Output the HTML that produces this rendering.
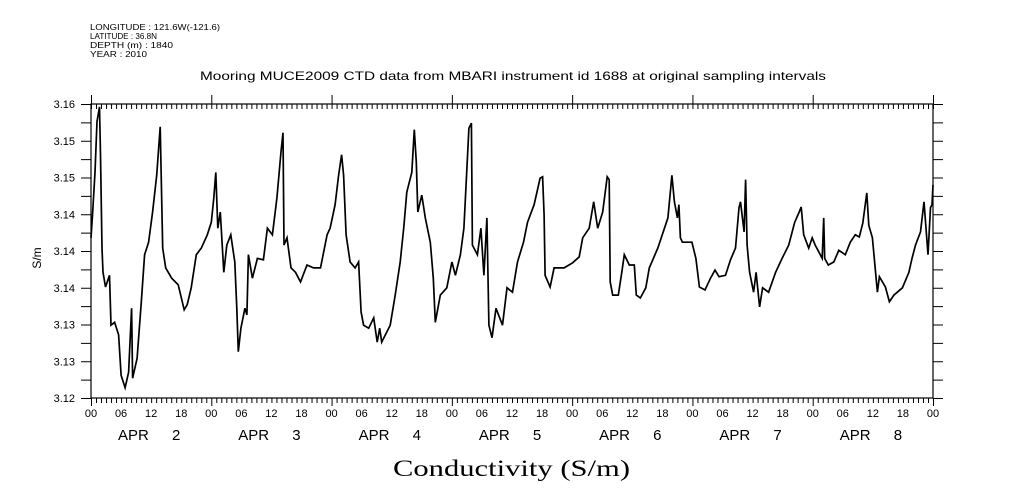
<!DOCTYPE html>
<html><head><meta charset="utf-8"><style>
body{margin:0;background:#fff;}
svg{display:block;font-family:"Liberation Sans",sans-serif;}
</style></head><body>
<svg id="chart" width="1009" height="504" viewBox="0 0 1009 504" xmlns="http://www.w3.org/2000/svg">
<rect width="1009" height="504" fill="#fff"/>
<g font-size="8.5" fill="#000">
<text x="90" y="30" textLength="130" lengthAdjust="spacingAndGlyphs">LONGITUDE : 121.6W(-121.6)</text>
<text x="90" y="39" textLength="67" lengthAdjust="spacingAndGlyphs">LATITUDE : 36.8N</text>
<text x="90" y="48" textLength="83" lengthAdjust="spacingAndGlyphs">DEPTH (m) : 1840</text>
<text x="90" y="57" textLength="57" lengthAdjust="spacingAndGlyphs">YEAR : 2010</text>
</g>
<text x="200" y="80" font-size="12" textLength="626" lengthAdjust="spacingAndGlyphs">Mooring MUCE2009 CTD data from MBARI instrument id 1688 at original sampling intervals</text>
<text x="41" y="258" font-size="12" text-anchor="middle" transform="rotate(-90 41 258)">S/m</text>
<text x="393" y="476" font-size="23" font-family="Liberation Serif, serif" textLength="237" lengthAdjust="spacingAndGlyphs">Conductivity (S/m)</text>
<g id="axes"></g>
<g id="series"></g>
</svg>
<script>
const hours=[0,0.3,0.8,1.2,1.7,1.9,2.2,2.4,2.9,3.7,4.0,4.7,5.5,6.0,6.8,7.5,8.1,8.3,9.2,10.0,10.7,11.5,12.3,13.1,13.8,14.3,14.9,16.1,17.4,18.6,19.2,20.0,21.0,22.0,23.2,24.0,24.5,24.9,25.3,25.8,26.5,27.1,27.9,28.7,29.1,29.4,29.9,30.7,31.1,31.4,32.2,33.2,34.4,35.2,36.2,37.1,37.9,38.3,38.5,39.1,39.9,40.8,41.8,43.1,44.4,45.8,47.1,47.7,48.7,49.4,50.0,50.4,50.9,51.7,52.7,53.4,53.9,54.4,55.4,56.4,57.1,57.6,
58.0,59.7,60.7,61.7,62.4,63.0,64.0,64.5,64.9,65.2,66.0,66.7,67.7,68.3,68.7,69.7,71.0,72.0,72.7,73.7,74.4,74.9,75.4,75.9,76.1,77.1,77.8,78.4,79.0,79.4,80.0,80.8,82.1,83.0,84.1,85.1,86.3,87.1,88.4,89.6,90.1,90.4,90.6,91.6,92.4,94.4,96.1,97.4,98.1,99.4,100.3,101.1,102.1,103.0,103.4,103.6,104.1,105.2,105.9,106.4,107.4,108.4,108.8,109.6,110.7,111.4,113.1,115.1,115.9,116.4,117.0,117.3,117.6,
118.0,118.6,119.9,120.7,121.4,122.5,123.6,124.5,125.3,126.6,127.6,128.6,129.3,129.6,130.3,130.6,130.9,131.4,132.2,132.7,133.4,134.0,135.2,136.6,137.9,139.2,140.4,141.3,141.7,142.2,143.2,143.9,144.5,145.2,145.9,146.2,146.4,147.1,148.2,149.2,150.5,151.5,152.5,153.3,154.0,154.8,155.2,155.9,156.4,156.9,157.3,158.5,159.3,160.2,161.9,163.2,163.8,164.5,165.5,166.2,166.6,167.0,167.5,167.8,168.0];
const values=[3.1418,3.1449,3.1507,3.1576,3.1596,3.1531,3.1404,3.1371,3.1351,3.1367,3.1299,3.1303,3.1286,3.1231,3.1214,3.1235,3.1322,3.1227,3.1254,3.1327,3.1395,3.1412,3.1453,3.1503,3.1569,3.1404,3.1377,3.1363,3.1354,3.1320,3.1327,3.1350,3.1395,3.1404,3.1422,3.1439,3.1472,3.1507,3.1431,3.1453,3.1371,3.1408,3.1422,3.1385,3.1322,3.1263,3.1295,3.1322,3.1313,3.1395,3.1363,3.1390,3.1388,3.1431,3.1422,3.1472,3.1535,3.1561,3.1408,3.1418,3.1377,3.1371,3.1358,3.1381,3.1377,3.1377,3.1422,3.1431,3.1463,3.1503,3.1531,3.1503,3.1422,3.1385,3.1377,3.1385,3.1317,3.1299,3.1295,3.1309,3.1276,3.1295,
3.1276,3.1299,3.1340,3.1385,3.1431,3.1480,3.1507,3.1565,3.1521,3.1453,3.1476,3.1445,3.1412,3.1363,3.1303,3.1340,3.1350,3.1385,3.1367,3.1395,3.1431,3.1499,3.1567,3.1574,3.1408,3.1395,3.1431,3.1367,3.1445,3.1299,3.1282,3.1322,3.1299,3.1350,3.1344,3.1385,3.1412,3.1439,3.1463,3.1499,3.1501,3.1449,3.1367,3.1351,3.1377,3.1377,3.1384,3.1392,3.1418,3.1431,3.1467,3.1431,3.1453,3.1501,3.1497,3.1358,3.1340,3.1340,3.1371,3.1395,3.1381,3.1381,3.1340,3.1336,3.1350,3.1377,3.1404,3.1445,3.1503,3.1467,3.1445,3.1463,3.1418,
3.1412,3.1412,3.1412,3.1390,3.1351,3.1347,3.1363,3.1374,3.1365,3.1367,3.1388,3.1404,3.1459,3.1467,3.1426,3.1497,3.1408,3.1371,3.1344,3.1371,3.1324,3.1350,3.1344,3.1371,3.1390,3.1408,3.1439,3.1453,3.1460,3.1422,3.1404,3.1418,3.1408,3.1399,3.1390,3.1445,3.1390,3.1381,3.1385,3.1401,3.1395,3.1412,3.1422,3.1419,3.1438,3.1479,3.1435,3.1418,3.1381,3.1344,3.1365,3.1351,3.1331,3.1340,3.1350,3.1371,3.1390,3.1408,3.1426,3.1467,3.1431,3.1395,3.1459,3.1463,3.1490];
const yTickValues=[3.160,3.155,3.150,3.145,3.140,3.135,3.130,3.125,3.120];
const yTickLabels=["3.16","3.15","3.15","3.14","3.14","3.14","3.13","3.13","3.12"];
const dayMonths=["APR","APR","APR","APR","APR","APR","APR"];
const dayNumbers=["2","3","4","5","6","7","8"];
const hourLabels=["00","06","12","18"];

const L=91,R=933,T=104,B=398,H0=0,H1=168,V0=3.12,V1=3.16;
function xs(h){return L+(h-H0)/(H1-H0)*(R-L);}
function ys(v){return B-(v-V0)/(V1-V0)*(B-T);}
const NS="http://www.w3.org/2000/svg";
const axes=document.getElementById('axes');
function mk(tag,attrs,parent){const e=document.createElementNS(NS,tag);for(const k in attrs)e.setAttribute(k,attrs[k]);parent.appendChild(e);return e;}

const frame=mk('rect',{x:L,y:T,width:R-L,height:B-T,fill:'none',stroke:'#000','stroke-width':1.2},axes);



for(let h=0;h<=H1;h++){
  const x=xs(h)+0.5;const major=h%24===0;
  const tb=mk('line',{x1:x,x2:x,y1:B,y2:B+(major?8:5),stroke:'#000','stroke-width':1},axes);
  
  
  const tt=mk('line',{x1:x,x2:x,y1:major?T-9:T,y2:T+5,stroke:'#000','stroke-width':1},axes);
  
  
  if(h%6===0){
    const t=mk('text',{x:xs(h),y:417,'font-size':11,'text-anchor':'middle'},axes);
    t.textContent=hourLabels[(h/6)%4];
    
    
  }
}
dayMonths.forEach((m,i)=>{
  const t=mk('text',{x:xs(i*24)+27,y:440,'font-size':15},axes);
  t.textContent=m;
  
  
  const n=mk('text',{x:xs(i*24)+81,y:440,'font-size':15},axes);
  n.textContent=dayNumbers[i];
  
  
});
for(let i=0;i<yTickValues.length*2-1;i++){
  const v=V1-i*0.0025;const y=ys(v)+0.5;
  const a=mk('line',{x1:L-10,x2:L,y1:y,y2:y,stroke:'#000','stroke-width':1},axes);
  
  
  const b=mk('line',{x1:R,x2:R+10,y1:y,y2:y,stroke:'#000','stroke-width':1},axes);
  
  
}
yTickValues.forEach((v,i)=>{
  const t=mk('text',{x:75,y:ys(v)+4,'font-size':11,'text-anchor':'end'},axes);
  t.textContent=yTickLabels[i];
  
  
});
let d='';
hours.forEach((h,i)=>{d+=(i?'L':'M')+xs(h).toFixed(1)+' '+ys(values[i]).toFixed(1);});
const p=mk('path',{d:d,fill:'none',stroke:'#000','stroke-width':1.7,'stroke-linejoin':'miter'},document.getElementById('series'));


</script>
</body></html>
